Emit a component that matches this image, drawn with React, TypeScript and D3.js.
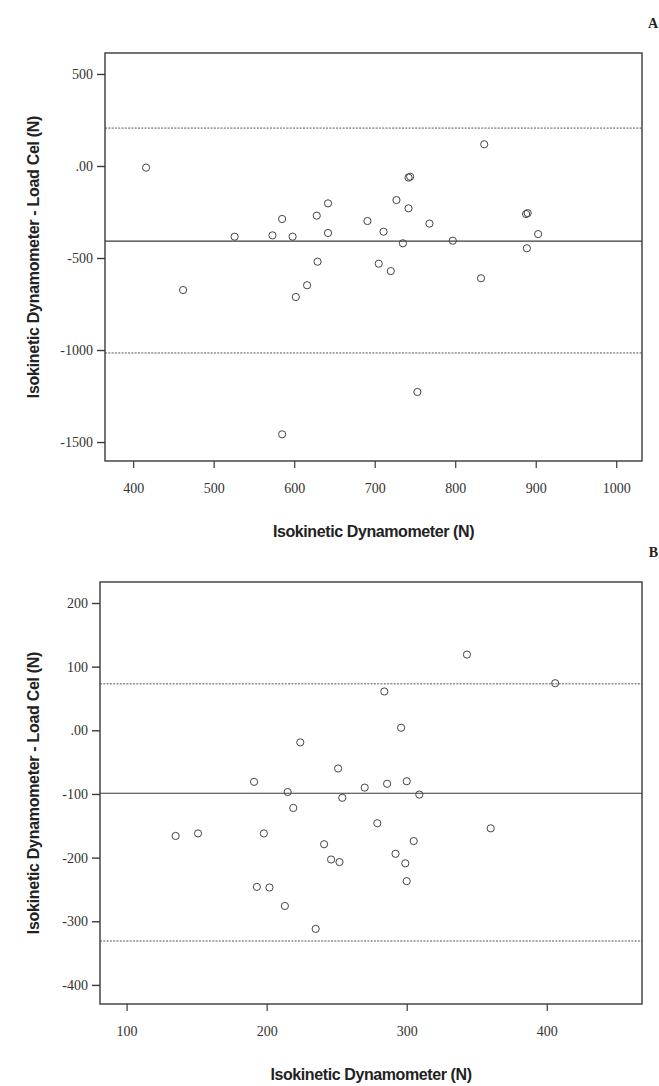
import React, { useRef, useEffect } from 'react';
import * as d3 from 'd3';

// Panel A
const xTicksA = [400, 500, 600, 700, 800, 900, 1000];
const yTicksA = [500, 0, -500, -1000, -1500];
const meanA = -408;
const upperA = 206;
const lowerA = -1016;
const avgA = [416, 462, 526, 573, 585, 598, 602, 616, 628, 629, 642, 642, 691, 711, 727, 742, 744, 742, 735, 705, 720, 768, 797, 836, 832, 888, 890, 903, 889, 585, 753];
const diffA = [-9, -674, -384, -377, -288, -384, -712, -648, -270, -520, -203, -364, -299, -357, -185, -63, -58, -230, -420, -531, -571, -313, -406, 118, -610, -261, -256, -370, -447, -1458, -1228];

// Panel B
const xTicksB = [100, 200, 300, 400];
const yTicksB = [200, 100, 0, -100, -200, -300, -400];
const meanB = -99;
const upperB = 73;
const lowerB = -331;
const avgB = [224, 191, 215, 251, 254, 219, 343, 406, 284, 296, 270, 286, 300, 309, 279, 360, 135, 151, 198, 241, 246, 252, 292, 299, 305, 300, 193, 202, 213, 235];
const diffB = [-19, -81, -97, -60, -106, -122, 119, 74, 61, 4, -90, -84, -80, -101, -146, -154, -166, -162, -162, -179, -203, -207, -194, -209, -174, -237, -246, -247, -276, -312];

const xTitle = 'Isokinetic Dynamometer (N)';
const yTitle = 'Isokinetic Dynamometer - Load Cel (N)';

const fmt = (d: number) => (d === 0 ? '.00' : String(d));

const drawPanel = (svg: any, cfg: any) => {
  const { left, right, top, bottom, xDomain, yDomain, xTicks, yTicks, avg, diff, mean, upper, lower, tag } = cfg;
  const x = d3.scaleLinear().domain(xDomain).range([left, right]);
  const y = d3.scaleLinear().domain(yDomain).range([bottom, top]);
  const ink = '#3a3a3a';

  const g = svg.append('g');

  // x axis
  const xa = g.append('g')
    .attr('transform', `translate(0,${bottom})`)
    .call(d3.axisBottom(x).tickValues(xTicks).tickSize(7).tickSizeOuter(0).tickFormat(fmt as any));
  xa.select('.domain').remove();
  xa.selectAll('line').attr('stroke', ink).attr('stroke-width', 1.2);
  xa.selectAll('text')
    .attr('y', 22)
    .attr('font-family', '"Liberation Serif", serif')
    .attr('font-size', 14)
    .attr('fill', '#333');

  // y axis
  const ya = g.append('g')
    .attr('transform', `translate(${left},0)`)
    .call(d3.axisLeft(y).tickValues(yTicks).tickSize(8).tickSizeOuter(0).tickFormat(fmt as any));
  ya.select('.domain').remove();
  ya.selectAll('line').attr('stroke', ink).attr('stroke-width', 1.4);
  ya.selectAll('text')
    .attr('x', -12)
    .attr('font-family', '"Liberation Serif", serif')
    .attr('font-size', 14)
    .attr('fill', '#333');

  // reference lines
  g.append('line')
    .attr('x1', left).attr('x2', right)
    .attr('y1', y(mean)).attr('y2', y(mean))
    .attr('stroke', ink).attr('stroke-width', 1.1);
  [upper, lower].forEach((v: number) => {
    g.append('line')
      .attr('x1', left).attr('x2', right)
      .attr('y1', y(v)).attr('y2', y(v))
      .attr('stroke', '#555').attr('stroke-width', 1)
      .attr('stroke-dasharray', '2,1.3');
  });

  // points
  g.selectAll('circle.pt')
    .data(avg.map((a: number, i: number) => ({ a, d: diff[i] })))
    .enter().append('circle')
    .attr('class', 'pt')
    .attr('cx', (d: any) => x(d.a))
    .attr('cy', (d: any) => y(d.d))
    .attr('r', 3.6)
    .attr('fill', 'none')
    .attr('stroke', '#444')
    .attr('stroke-width', 1);

  // frame
  g.append('rect')
    .attr('x', left).attr('y', top)
    .attr('width', right - left).attr('height', bottom - top)
    .attr('fill', 'none')
    .attr('stroke', ink)
    .attr('stroke-width', 1.4);

  // titles
  g.append('text')
    .attr('x', (left + right) / 2)
    .attr('y', bottom + 76)
    .attr('text-anchor', 'middle')
    .attr('font-family', '"Liberation Sans", Arial, sans-serif')
    .attr('font-weight', 'bold')
    .attr('font-size', 16)
    .attr('letter-spacing', -0.4)
    .attr('fill', '#222')
    .text(xTitle);

  g.append('text')
    .attr('transform', `translate(39,${(top + bottom) / 2}) rotate(-90)`)
    .attr('text-anchor', 'middle')
    .attr('font-family', '"Liberation Sans", Arial, sans-serif')
    .attr('font-weight', 'bold')
    .attr('font-size', 16)
    .attr('letter-spacing', -0.3)
    .attr('fill', '#222')
    .text(yTitle);

  g.append('text')
    .attr('x', 658)
    .attr('y', top - 25)
    .attr('text-anchor', 'end')
    .attr('font-family', '"Liberation Serif", serif')
    .attr('font-weight', 'bold')
    .attr('font-size', 14)
    .attr('fill', '#222')
    .text(tag);
};

const App = () => {
  const chartRef = useRef<HTMLDivElement>(null);

  useEffect(() => {
    document.body.style.margin = '0';
    const width = 659;
    const height = 1086;

    d3.select(chartRef.current).select('svg').remove();

    const svg = d3.select(chartRef.current)
      .append('svg')
      .attr('width', width)
      .attr('height', height)
      .style('display', 'block')
      .style('background', '#fff');

    drawPanel(svg, {
      left: 105, right: 642, top: 53, bottom: 461,
      xDomain: [365, 1032], yDomain: [-1603, 614],
      xTicks: xTicksA, yTicks: yTicksA,
      avg: avgA, diff: diffA,
      mean: meanA, upper: upperA, lower: lowerA,
      tag: 'A',
    });

    drawPanel(svg, {
      left: 100, right: 642, top: 582, bottom: 1004,
      xDomain: [81, 468], yDomain: [-430, 233],
      xTicks: xTicksB, yTicks: yTicksB,
      avg: avgB, diff: diffB,
      mean: meanB, upper: upperB, lower: lowerB,
      tag: 'B',
    });
  }, []);

  return <div ref={chartRef}></div>;
};

export default App;
